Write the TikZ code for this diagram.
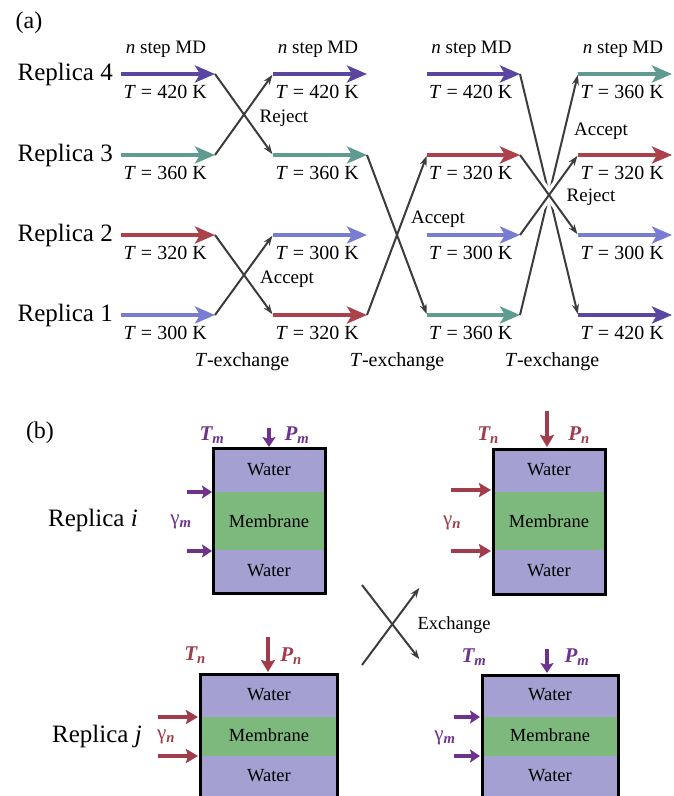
\documentclass[tikz,border=0pt]{standalone}
\usepackage{fontspec}
\setmainfont{Liberation Serif}
\usetikzlibrary{arrows.meta}
\definecolor{cA}{HTML}{5A46A0}
\definecolor{cB}{HTML}{5F9B91}
\definecolor{cC}{HTML}{AA414B}
\definecolor{cD}{HTML}{787DD2}
\definecolor{pm}{HTML}{6E328C}
\definecolor{rn}{HTML}{A03C4B}
\definecolor{water}{HTML}{A5A0D2}
\definecolor{memb}{HTML}{7DB97D}
\definecolor{conn}{HTML}{3C3C3C}
\newcommand\fs[1]{\fontsize{#1}{#1}\selectfont}
\tikzset{
  md/.style={line width=4.5pt, -{Stealth[length=20pt,width=17pt,inset=5pt]}},
  xc/.style={draw=conn, line width=2pt, -{Stealth[length=10pt,width=7pt]}, shorten >=1pt},
  halo/.style={draw=white, line width=9pt, shorten <=12pt, shorten >=12pt},
  lab/.style={font=\fs{19}, inner sep=0pt},
  tlab/.style={font=\fs{20}, inner sep=0pt},
  rep/.style={font=\fs{25}, inner sep=0pt},
  wtxt/.style={font=\fs{18.5}, inner sep=0pt},
  parm/.style={font=\fs{21}\bfseries\itshape, inner sep=0pt},
  pushm/.style={draw=pm, line width=4pt, -{Stealth[length=10pt,width=13pt,inset=2pt]}},
  pushn/.style={draw=rn, line width=4pt, -{Stealth[length=12pt,width=14pt,inset=2pt]}},
  frame/.style={draw=black, line width=3pt},
}
\begin{document}
\begin{tikzpicture}[x=1pt,y=-1pt]
\useasboundingbox (0,0) rectangle (674,796);
\clip (0,0) rectangle (674,796);

% ---------------- (a) ----------------
\node[font=\fs{24}, inner sep=0pt] (la) at (29,23) {(a)};

% coordinates of MD arrows
\foreach \c/\xs/\xe in {1/121/215, 2/273/367, 3/427/520, 4/578/672}{
  \foreach \r/\y in {4/74, 3/155, 2/235, 1/315}{
    \coordinate (s\c\r) at (\xs,\y);
    \coordinate (e\c\r) at (\xe,\y);
  }
  \node[lab] (md\c) at ({(\xs+\xe)/2-2},49) {\textit{n} step MD};
}

\node[rep, anchor=east] (rp4) at (113,74) {Replica 4};
\node[rep, anchor=east] (rp3) at (113,155) {Replica 3};
\node[rep, anchor=east] (rp2) at (113,235) {Replica 2};
\node[rep, anchor=east] (rp1) at (113,315) {Replica 1};

% column arrows: color / temperature
\foreach \c/\r/\col/\t in {
  1/4/cA/420, 1/3/cB/360, 1/2/cC/320, 1/1/cD/300,
  2/4/cA/420, 2/3/cB/360, 2/2/cD/300, 2/1/cC/320,
  3/4/cA/420, 3/3/cC/320, 3/2/cD/300, 3/1/cB/360,
  4/4/cB/360, 4/3/cC/320, 4/2/cD/300, 4/1/cA/420}{
  \draw[md, draw=\col, color=\col] (s\c\r) -- (e\c\r);
  \path (s\c\r) -- (e\c\r) node[tlab, pos=0.47, yshift=-18pt] (t\c\r) {\textit{T} = \t\ K};
}

% exchange 1
\draw[xc] (e14) -- (s23);
\draw[xc] (e13) -- (s24);
\draw[xc] (e12) -- (s21);
\draw[xc] (e11) -- (s22);
\node[lab] (rj1) at (284,118) {Reject};
\node[lab] (ac1) at (287,279) {Accept};

% exchange 2
\draw[xc] (e23) -- (s31);
\draw[xc] (e21) -- (s33);
\node[lab] (ac2) at (438,219) {Accept};

% exchange 3
\draw[xc] (e34) -- (s41);
\draw[xc] (e31) -- (s44);
\path[halo] (e33) -- (s42);
\path[halo] (e32) -- (s43);
\draw[xc] (e33) -- (s42);
\draw[xc] (e32) -- (s43);
\node[lab] (ac3) at (601,131) {Accept};
\node[lab] (rj3) at (591,197) {Reject};

\node[tlab] (te1) at (242,362) {\textit{T}-exchange};
\node[tlab] (te2) at (397,362) {\textit{T}-exchange};
\node[tlab] (te3) at (552,362) {\textit{T}-exchange};

% ---------------- (b) ----------------
\node[font=\fs{24}, inner sep=0pt] (lb) at (40,433) {(b)};

% box 1 (replica i, m)
\fill[water] (213,448) rectangle (325,492);
\fill[memb] (213,492) rectangle (325,550);
\fill[water] (213,550) rectangle (325,593);
\draw[frame] (213,448) rectangle (325,593);
\node[wtxt] (w1a) at (269,470) {Water};
\node[wtxt] (m1) at (269,521) {Membrane};
\node[wtxt] (w1b) at (269,571) {Water};
\node[parm, text=pm] (T1) at (212,435) {T\textsubscript{m}};
\node[parm, text=pm] (P1) at (297,435) {P\textsubscript{m}};
\coordinate (p1a) at (269,428); \coordinate (p1b) at (269,447);
\draw[pushm] (p1a) -- (p1b);
\coordinate (g1a) at (187,492); \coordinate (g1b) at (212,492);
\coordinate (g1c) at (187,551); \coordinate (g1d) at (212,551);
\draw[pushm] (g1a) -- (g1b);
\draw[pushm] (g1c) -- (g1d);
\node[font=\fs{21}, text=pm, inner sep=0pt] (y1) at (181,522) {γ\textsubscript{\textbf{\textit{m}}}};
\node[rep] (ri) at (93,520) {Replica \textit{i}};

% box 2 (n)
\fill[water] (493,449) rectangle (605,492);
\fill[memb] (493,492) rectangle (605,550);
\fill[water] (493,550) rectangle (605,594);
\draw[frame] (493,449) rectangle (605,594);
\node[wtxt] (w2a) at (549,470) {Water};
\node[wtxt] (m2) at (549,521) {Membrane};
\node[wtxt] (w2b) at (549,571) {Water};
\node[parm, text=rn] (T2) at (488,435) {T\textsubscript{n}};
\node[parm, text=rn] (P2) at (579,435) {P\textsubscript{n}};
\coordinate (p2a) at (547,411); \coordinate (p2b) at (547,447);
\draw[pushn] (p2a) -- (p2b);
\coordinate (g2a) at (451,490); \coordinate (g2b) at (491,490);
\coordinate (g2c) at (451,551); \coordinate (g2d) at (491,551);
\draw[pushn] (g2a) -- (g2b);
\draw[pushn] (g2c) -- (g2d);
\node[font=\fs{21}, text=rn, inner sep=0pt] (y2) at (452,523) {γ\textsubscript{\textbf{\textit{n}}}};

% exchange
\coordinate (xa) at (362,585); \coordinate (xb) at (420,660);
\coordinate (xc) at (362,665); \coordinate (xd) at (420,587);
\draw[xc] (xa) -- (xb);
\draw[xc] (xc) -- (xd);
\node[lab, font=\fs{18.5}] (ex) at (454,625) {Exchange};

% box 3 (replica j, n)
\fill[water] (200,674) rectangle (337,717);
\fill[memb] (200,717) rectangle (337,756);
\fill[water] (200,756) rectangle (337,810);
\draw[frame] (200,810) -- (200,674) -- (337,674) -- (337,810);
\node[wtxt] (w3a) at (269,695) {Water};
\node[wtxt] (m3) at (269,735) {Membrane};
\node[wtxt] (w3b) at (269,776) {Water};
\node[parm, text=rn] (T3) at (195,655) {T\textsubscript{n}};
\node[parm, text=rn] (P3) at (291,656) {P\textsubscript{n}};
\coordinate (p3a) at (268,637); \coordinate (p3b) at (268,672);
\draw[pushn] (p3a) -- (p3b);
\coordinate (g3a) at (158,717); \coordinate (g3b) at (198,717);
\coordinate (g3c) at (158,756); \coordinate (g3d) at (198,756);
\draw[pushn] (g3a) -- (g3b);
\draw[pushn] (g3c) -- (g3d);
\node[font=\fs{21}, text=rn, inner sep=0pt] (y3) at (166,737) {γ\textsubscript{\textbf{\textit{n}}}};
\node[rep] (rj) at (97,736) {Replica \textit{j}};

% box 4 (m)
\fill[water] (482,675) rectangle (618,717);
\fill[memb] (482,717) rectangle (618,756);
\fill[water] (482,756) rectangle (618,810);
\draw[frame] (482,810) -- (482,675) -- (618,675) -- (618,810);
\node[wtxt] (w4a) at (550,695) {Water};
\node[wtxt] (m4) at (550,735) {Membrane};
\node[wtxt] (w4b) at (550,776) {Water};
\node[parm, text=pm] (T4) at (474,657) {T\textsubscript{m}};
\node[parm, text=pm] (P4) at (577,657) {P\textsubscript{m}};
\coordinate (p4a) at (547,649); \coordinate (p4b) at (547,673);
\draw[pushm] (p4a) -- (p4b);
\coordinate (g4a) at (454,717); \coordinate (g4b) at (480,717);
\coordinate (g4c) at (454,756); \coordinate (g4d) at (480,756);
\draw[pushm] (g4a) -- (g4b);
\draw[pushm] (g4c) -- (g4d);
\node[font=\fs{21}, text=pm, inner sep=0pt] (y4) at (445,738) {γ\textsubscript{\textbf{\textit{m}}}};
\end{tikzpicture}
\end{document}
